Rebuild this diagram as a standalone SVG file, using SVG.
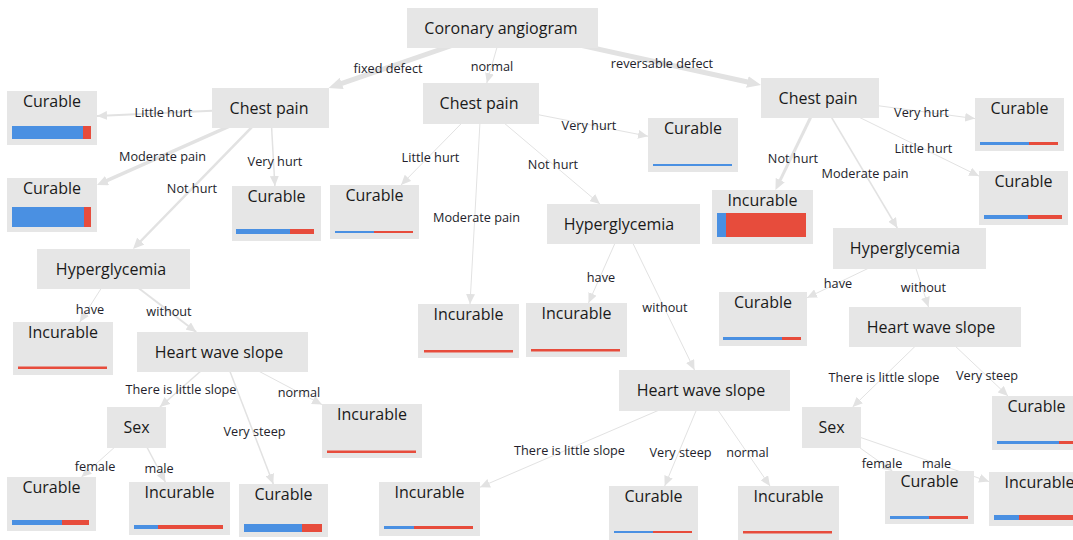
<svg xmlns="http://www.w3.org/2000/svg" width="1073" height="540" viewBox="0 0 1073 540">
<style>
.e{fill:none;stroke:#e2e2e2;stroke-width:1}
.w15{stroke-width:1.5}.w2{stroke-width:2}.w25{stroke-width:2.5}.w3{stroke-width:3}.w35{stroke-width:3.5}.w5{stroke-width:5}
.s{marker-end:url(#as)}.m{marker-end:url(#am)}.g{marker-end:url(#al)}
.box{fill:#e6e6e6}
.t{font-family:"Open Sans","Liberation Sans",sans-serif;font-size:16px;fill:#1a1a1a;text-anchor:middle}
.l{font-family:"Open Sans","Liberation Sans",sans-serif;font-size:12.7px;fill:#231e2b;text-anchor:middle}
.b{fill:#4a90e2}.r{fill:#e74c3c}
</style>
<defs>
<marker id="as" markerUnits="userSpaceOnUse" viewBox="0 0 10 9" markerWidth="10" markerHeight="9" refX="10" refY="4.5" orient="auto"><path d="M0,0L10,4.5L0,9z" fill="#e2e2e2"/></marker>
<marker id="am" markerUnits="userSpaceOnUse" viewBox="0 0 11 10" markerWidth="11" markerHeight="10" refX="4" refY="5" orient="auto"><path d="M0,0L11,5L0,10z" fill="#e2e2e2"/></marker>
<marker id="al" markerUnits="userSpaceOnUse" viewBox="0 0 14 12" markerWidth="14" markerHeight="12" refX="6" refY="6" orient="auto"><path d="M0,0L14,6L0,12z" fill="#e2e2e2"/></marker>
</defs>
<g id="connectors">
<line class="e w5 g" x1="502.5" y1="28" x2="336.1" y2="85.4"/>
<line class="e s" x1="502.5" y1="28" x2="486.8" y2="83"/>
<line class="e w5 g" x1="502.5" y1="28" x2="753.2" y2="83.3"/>
<line class="e w2 s" x1="270.5" y1="108" x2="97" y2="115.9"/>
<line class="e w35 m" x1="270.5" y1="108" x2="103.4" y2="182.2"/>
<line class="e w15 s" x1="270.5" y1="108" x2="274.9" y2="186"/>
<line class="e w25 m" x1="270.5" y1="108" x2="137.9" y2="244"/>
<line class="e s" x1="481" y1="103.5" x2="401" y2="185"/>
<line class="e s" x1="481" y1="103.5" x2="470" y2="304"/>
<line class="e s" x1="481" y1="103.5" x2="599.9" y2="204"/>
<line class="e s" x1="481" y1="103.5" x2="648" y2="136.2"/>
<line class="e s" x1="820" y1="98" x2="975" y2="118.6"/>
<line class="e s" x1="820" y1="98" x2="979" y2="176.1"/>
<line class="e w3 m" x1="820" y1="98" x2="778.5" y2="183.7"/>
<line class="e w15 s" x1="820" y1="98" x2="897.3" y2="228"/>
<line class="e s" x1="113.5" y1="269" x2="79.8" y2="322"/>
<line class="e w2 s" x1="113.5" y1="269" x2="196.2" y2="332"/>
<line class="e w15 s" x1="222.5" y1="352" x2="159.9" y2="407"/>
<line class="e s" x1="222.5" y1="352" x2="322" y2="404.6"/>
<line class="e w15 s" x1="222.5" y1="352" x2="273.3" y2="484"/>
<line class="e s" x1="136.5" y1="427.5" x2="81.5" y2="477"/>
<line class="e w15 s" x1="136.5" y1="427.5" x2="165.4" y2="482"/>
<line class="e s" x1="623.5" y1="224" x2="588.5" y2="303"/>
<line class="e s" x1="623.5" y1="224" x2="694.5" y2="370"/>
<line class="e s" x1="704.5" y1="390.5" x2="480" y2="487.2"/>
<line class="e s" x1="704.5" y1="390.5" x2="664.7" y2="486"/>
<line class="e s" x1="704.5" y1="390.5" x2="770" y2="486"/>
<line class="e s" x1="909.5" y1="248.5" x2="807" y2="297.8"/>
<line class="e s" x1="909.5" y1="248.5" x2="928.5" y2="307"/>
<line class="e s" x1="935" y1="327" x2="852.6" y2="407"/>
<line class="e s" x1="935" y1="327" x2="1008" y2="396"/>
<line class="e s" x1="831.5" y1="427.5" x2="892.4" y2="471"/>
<line class="e s" x1="831.5" y1="427.5" x2="989" y2="481.6"/>
<text class="l" x="388" y="73">fixed defect</text>
<text class="l" x="492" y="71">normal</text>
<text class="l" x="662" y="68">reversable defect</text>
<text class="l" x="163.5" y="117">Little hurt</text>
<text class="l" x="162.5" y="161">Moderate pain</text>
<text class="l" x="275" y="166">Very hurt</text>
<text class="l" x="192" y="193">Not hurt</text>
<text class="l" x="430.5" y="162">Little hurt</text>
<text class="l" x="553" y="169">Not hurt</text>
<text class="l" x="589" y="130">Very hurt</text>
<text class="l" x="476.5" y="222">Moderate pain</text>
<text class="l" x="921.5" y="117">Very hurt</text>
<text class="l" x="923.5" y="153">Little hurt</text>
<text class="l" x="793" y="163">Not hurt</text>
<text class="l" x="865" y="178">Moderate pain</text>
<text class="l" x="90" y="314">have</text>
<text class="l" x="169" y="316">without</text>
<text class="l" x="181" y="394">There is little slope</text>
<text class="l" x="299" y="397">normal</text>
<text class="l" x="254.5" y="436">Very steep</text>
<text class="l" x="95" y="471">female</text>
<text class="l" x="159" y="473">male</text>
<text class="l" x="601" y="282">have</text>
<text class="l" x="665" y="312">without</text>
<text class="l" x="569.5" y="455">There is little slope</text>
<text class="l" x="680.5" y="457">Very steep</text>
<text class="l" x="747.5" y="457">normal</text>
<text class="l" x="838" y="288">have</text>
<text class="l" x="923.5" y="292">without</text>
<text class="l" x="884" y="382">There is little slope</text>
<text class="l" x="987" y="380">Very steep</text>
<text class="l" x="882" y="468">female</text>
<text class="l" x="936.5" y="468">male</text>
</g>
<g id="root"><rect class="box" x="407" y="8" width="191" height="40"/><text class="t" x="501" y="33.5">Coronary angiogram</text></g>
<g id="cp1"><rect class="box" x="212" y="88" width="117" height="40"/><text class="t" x="269" y="113.5">Chest pain</text></g>
<g id="cp2"><rect class="box" x="423" y="83" width="116" height="41"/><text class="t" x="479" y="109">Chest pain</text></g>
<g id="cp3"><rect class="box" x="761" y="78" width="118" height="40"/><text class="t" x="818" y="103.5">Chest pain</text></g>
<g id="hg1"><rect class="box" x="37" y="249" width="153" height="40"/><text class="t" x="111" y="274.5">Hyperglycemia</text></g>
<g id="hg2"><rect class="box" x="547" y="204" width="153" height="40"/><text class="t" x="619" y="229.5">Hyperglycemia</text></g>
<g id="hg3"><rect class="box" x="833" y="228" width="153" height="41"/><text class="t" x="905" y="254">Hyperglycemia</text></g>
<g id="hws1"><rect class="box" x="137" y="332" width="171" height="40"/><text class="t" x="219" y="357.5">Heart wave slope</text></g>
<g id="hws2"><rect class="box" x="619" y="370" width="171" height="41"/><text class="t" x="701" y="396">Heart wave slope</text></g>
<g id="hws3"><rect class="box" x="849" y="307" width="172" height="40"/><text class="t" x="931" y="332.5">Heart wave slope</text></g>
<g id="sex1"><rect class="box" x="107" y="407" width="59" height="41"/><text class="t" x="136.5" y="433">Sex</text></g>
<g id="sex2"><rect class="box" x="802" y="407" width="59" height="41"/><text class="t" x="831.5" y="433">Sex</text></g>
<g id="leaf1"><rect class="box" x="7" y="91" width="90" height="54"/><text class="t" x="52" y="107">Curable</text><rect class="b" x="12" y="126" width="71" height="13"/><rect class="r" x="83" y="126" width="8" height="13"/></g>
<g id="leaf2"><rect class="box" x="7" y="178" width="90" height="54"/><text class="t" x="52" y="194">Curable</text><rect class="b" x="12" y="207" width="72" height="20"/><rect class="r" x="84" y="207" width="7" height="20"/></g>
<g id="leaf3"><rect class="box" x="232" y="186" width="89" height="55"/><text class="t" x="276.5" y="202">Curable</text><rect class="b" x="236" y="229" width="54" height="5"/><rect class="r" x="290" y="229" width="24" height="5"/></g>
<g id="leaf4"><rect class="box" x="13" y="322" width="100" height="53"/><text class="t" x="63" y="338">Incurable</text><rect class="r" x="18" y="366.5" width="89" height="2.5"/></g>
<g id="leaf5"><rect class="box" x="7" y="477" width="89" height="54"/><text class="t" x="51.5" y="493">Curable</text><rect class="b" x="12" y="520" width="50" height="5"/><rect class="r" x="62" y="520" width="27" height="5"/></g>
<g id="leaf6"><rect class="box" x="129" y="482" width="101" height="53"/><text class="t" x="179.5" y="498">Incurable</text><rect class="b" x="134" y="525" width="24" height="4"/><rect class="r" x="158" y="525" width="65" height="4"/></g>
<g id="leaf7"><rect class="box" x="239" y="484" width="89" height="53"/><text class="t" x="283.5" y="500">Curable</text><rect class="b" x="244" y="524" width="58" height="8"/><rect class="r" x="302" y="524" width="20" height="8"/></g>
<g id="leaf8"><rect class="box" x="322" y="404" width="100" height="54"/><text class="t" x="372" y="420">Incurable</text><rect class="r" x="327" y="450.5" width="89" height="2.5"/></g>
<g id="leaf9"><rect class="box" x="330" y="185" width="89" height="54"/><text class="t" x="374.5" y="201">Curable</text><rect class="b" x="335" y="231" width="39" height="2"/><rect class="r" x="374" y="231" width="39" height="2"/></g>
<g id="leaf10"><rect class="box" x="648" y="118" width="90" height="54"/><text class="t" x="693" y="134">Curable</text><rect class="b" x="653" y="164" width="79" height="2"/></g>
<g id="leaf11"><rect class="box" x="418" y="304" width="101" height="54"/><text class="t" x="468.5" y="320">Incurable</text><rect class="r" x="424" y="350" width="89" height="2.5"/></g>
<g id="leaf12"><rect class="box" x="526" y="303" width="101" height="54"/><text class="t" x="576.5" y="319">Incurable</text><rect class="r" x="531" y="349" width="89" height="2.5"/></g>
<g id="leaf13"><rect class="box" x="379" y="482" width="101" height="54"/><text class="t" x="429.5" y="498">Incurable</text><rect class="b" x="384" y="526" width="30" height="3"/><rect class="r" x="414" y="526" width="59" height="3"/></g>
<g id="leaf14"><rect class="box" x="609" y="486" width="89" height="54"/><text class="t" x="653.5" y="502">Curable</text><rect class="b" x="614" y="531" width="39" height="2"/><rect class="r" x="653" y="531" width="39" height="2"/></g>
<g id="leaf15"><rect class="box" x="738" y="486" width="101" height="54"/><text class="t" x="788.5" y="502">Incurable</text><rect class="r" x="743" y="531" width="89" height="2.5"/></g>
<g id="leaf16"><rect class="box" x="712" y="190" width="101" height="54"/><text class="t" x="762.5" y="206">Incurable</text><rect class="b" x="717" y="213" width="9" height="24"/><rect class="r" x="726" y="213" width="80" height="24"/></g>
<g id="leaf17"><rect class="box" x="975" y="98" width="89" height="53"/><text class="t" x="1019.5" y="114">Curable</text><rect class="b" x="980" y="142" width="49" height="3"/><rect class="r" x="1029" y="142" width="29" height="3"/></g>
<g id="leaf18"><rect class="box" x="979" y="171" width="89" height="54"/><text class="t" x="1023.5" y="187">Curable</text><rect class="b" x="984" y="215" width="44" height="4"/><rect class="r" x="1028" y="215" width="34" height="4"/></g>
<g id="leaf19"><rect class="box" x="719" y="292" width="88" height="54"/><text class="t" x="763" y="308">Curable</text><rect class="b" x="723" y="337" width="59" height="3"/><rect class="r" x="782" y="337" width="19" height="3"/></g>
<g id="leaf20"><rect class="box" x="992" y="396" width="89" height="54"/><text class="t" x="1036.5" y="412">Curable</text><rect class="b" x="997" y="441" width="62" height="3"/><rect class="r" x="1059" y="441" width="16" height="3"/></g>
<g id="leaf21"><rect class="box" x="885" y="471" width="89" height="53"/><text class="t" x="929.5" y="487">Curable</text><rect class="b" x="890" y="516" width="39" height="3"/><rect class="r" x="929" y="516" width="39" height="3"/></g>
<g id="leaf22"><rect class="box" x="989" y="472" width="101" height="54"/><text class="t" x="1039.5" y="488">Incurable</text><rect class="b" x="994" y="515" width="25" height="5"/><rect class="r" x="1019" y="515" width="65" height="5"/></g>
</svg>
